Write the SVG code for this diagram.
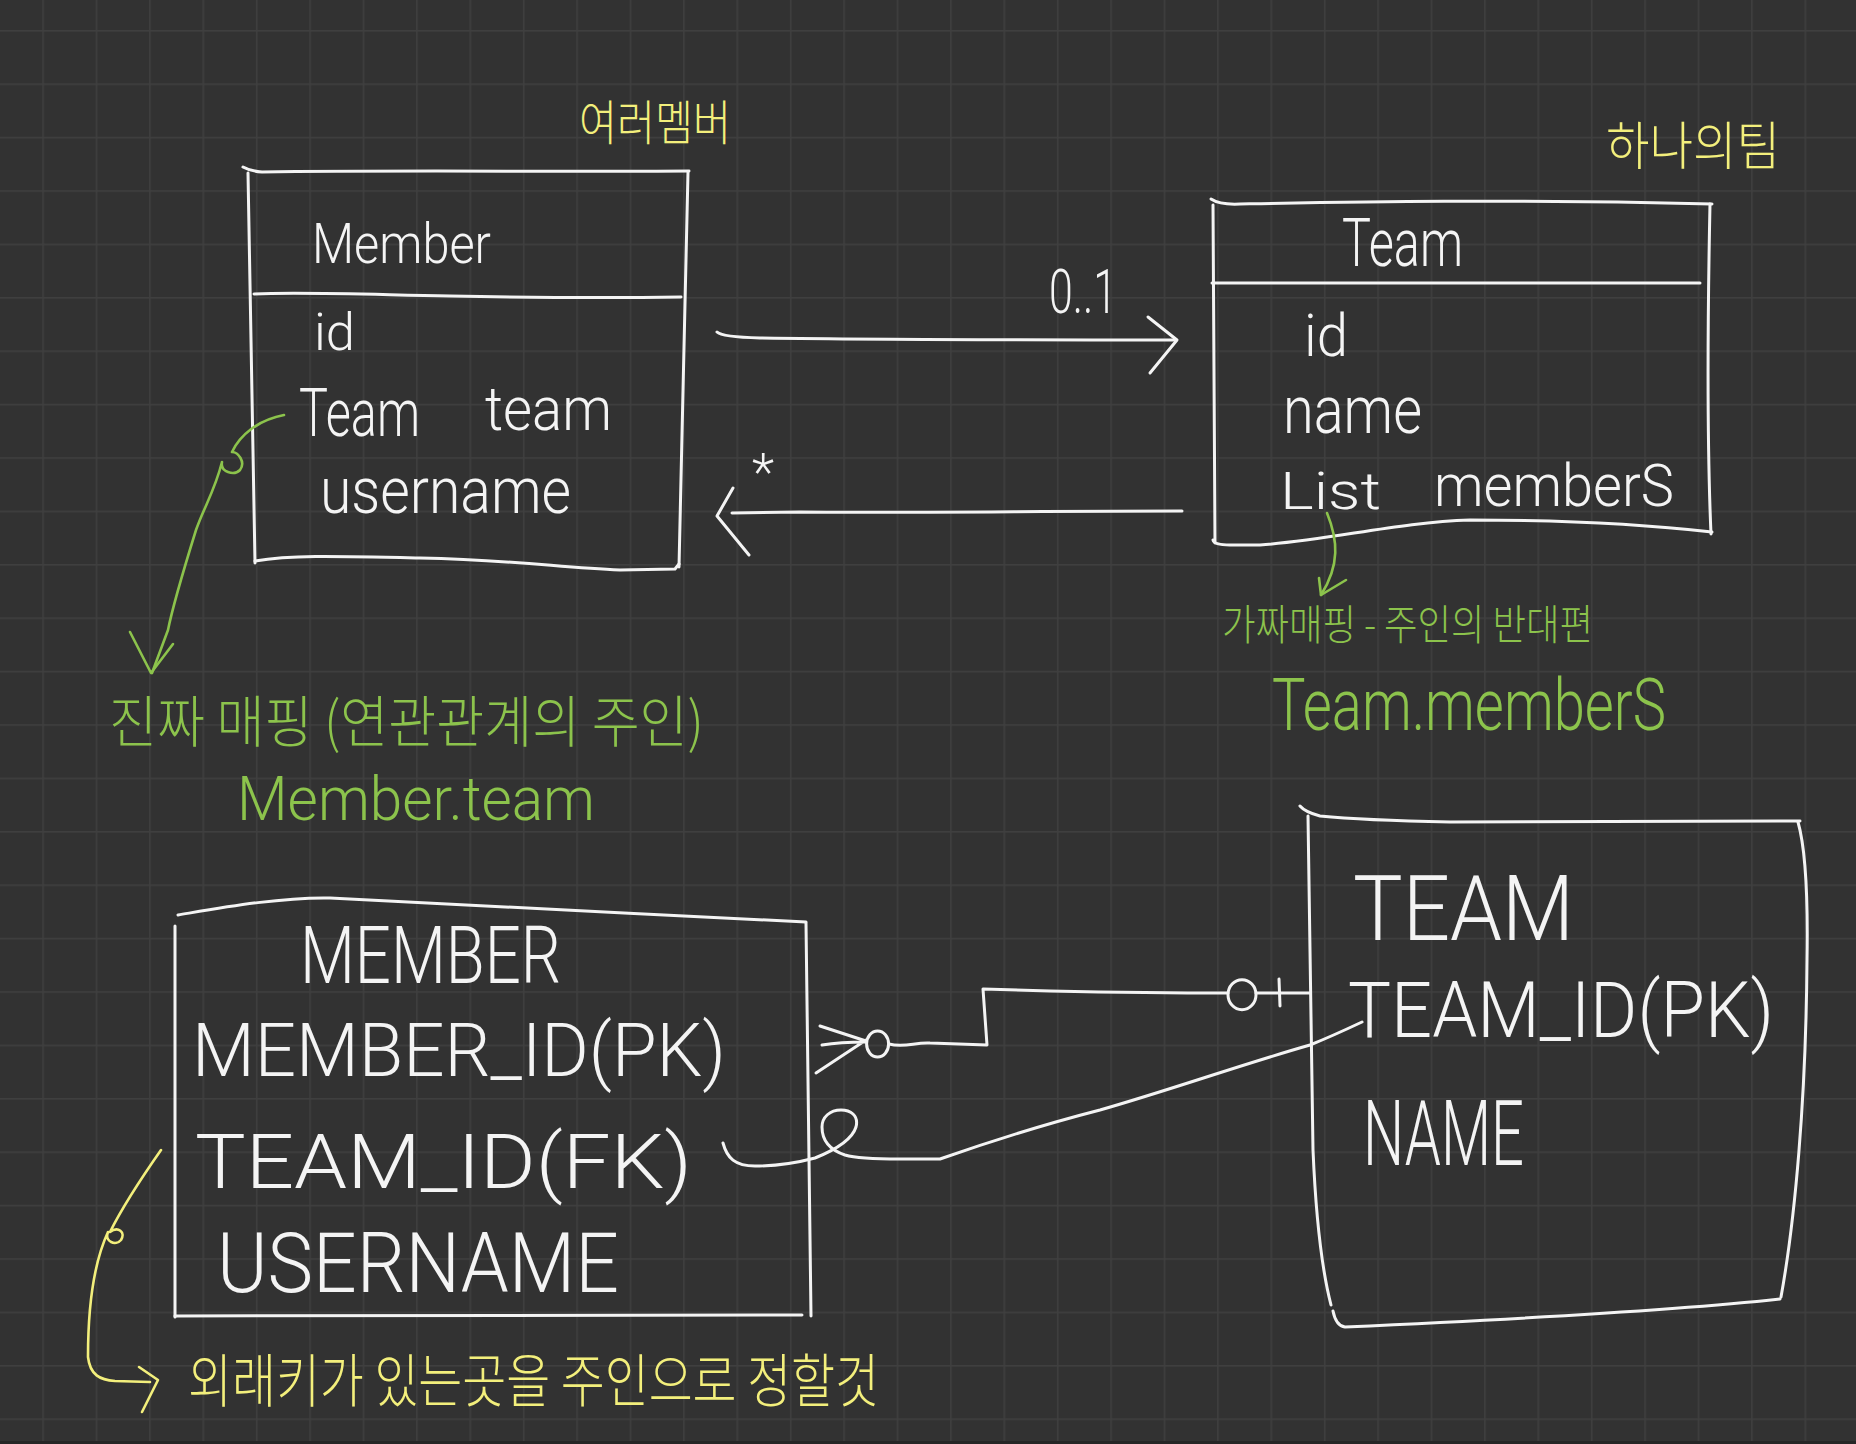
<svg xmlns="http://www.w3.org/2000/svg" width="1856" height="1444" viewBox="0 0 1856 1444">
<defs>
<pattern id="grid" patternUnits="userSpaceOnUse" x="42.3" y="30" width="53.4" height="53.4">
<rect x="0" y="0" width="1.6" height="53.4" fill="#3f3f3f"/>
<rect x="0" y="0" width="53.4" height="1.6" fill="#3f3f3f"/>
</pattern>
<style>
.w{fill:none;stroke:#f4f4f4;stroke-width:3;stroke-linecap:round;stroke-linejoin:round}
.g{fill:none;stroke:#8cc34c;stroke-width:2.6;stroke-linecap:round;stroke-linejoin:round}
.y{fill:none;stroke:#f3ef7c;stroke-width:2.6;stroke-linecap:round;stroke-linejoin:round}
.t{fill:#f4f4f4;font-family:Roboto,"Noto Sans","Noto Sans CJK KR",sans-serif;font-weight:300}
.tg{fill:#8cc34c;font-family:Roboto,"Noto Sans","Noto Sans CJK KR",sans-serif;font-weight:300}
.ty{fill:#f3ef7c;font-family:"Noto Sans CJK KR","Noto Sans",sans-serif;font-weight:300}
.k{font-family:"Noto Sans CJK KR","Noto Sans",sans-serif}
</style>
</defs>
<rect width="1856" height="1444" fill="#323232"/>
<rect width="1856" height="1444" fill="url(#grid)"/>
<rect x="0" y="1441" width="1856" height="3" fill="#262626"/>

<g id="node-member">
<path class="w" d="M243,167 Q250,171 262,172 C400,170 550,172 689,171"/>
<path class="w" d="M248,173 L255,563"/>
<path class="w" d="M688,172 L679,567"/>
<path class="w" d="M255,561 C290,555 330,556 420,558 C520,560 560,568 620,570 L675,569 L679,564"/>
<path class="w" d="M254,294 C300,292 350,294 450,296 C550,298 620,298 681,297"/>
<text class="t" x="312" y="263" font-size="56" textLength="179" lengthAdjust="spacingAndGlyphs">Member</text>
<text class="t" x="314" y="350" font-size="52" textLength="41" lengthAdjust="spacingAndGlyphs">id</text>
<text class="t" x="299" y="436" font-size="66" textLength="121" lengthAdjust="spacingAndGlyphs">Team</text>
<text class="t" x="485" y="430" font-size="62" textLength="127" lengthAdjust="spacingAndGlyphs">team</text>
<text class="t" x="320" y="513" font-size="64" textLength="251" lengthAdjust="spacingAndGlyphs">username</text>
<text class="ty" x="579" y="140" font-size="48" textLength="152" lengthAdjust="spacingAndGlyphs">여러멤버</text>
</g>

<g id="node-team">
<path class="w" d="M1211,199 Q1220,205 1240,204 C1350,202 1500,199 1712,204"/>
<path class="w" d="M1213,205 L1215,543"/>
<path class="w" d="M1710,204 C1708,300 1706,420 1711,534"/>
<path class="w" d="M1213,540 Q1214,545 1230,545 L1260,545 C1330,540 1400,522 1470,520 C1560,520 1650,525 1712,532"/>
<path class="w" d="M1212,283 L1700,283"/>
<text class="t" x="1342" y="266" font-size="66" textLength="121" lengthAdjust="spacingAndGlyphs">Team</text>
<text class="t" x="1304" y="356" font-size="60" textLength="44" lengthAdjust="spacingAndGlyphs">id</text>
<text class="t" x="1283" y="433" font-size="66" textLength="139" lengthAdjust="spacingAndGlyphs">name</text>
<text class="t" x="1280" y="509" font-size="52" textLength="101" lengthAdjust="spacingAndGlyphs">List</text>
<text class="t" x="1434" y="506" font-size="60" textLength="240" lengthAdjust="spacingAndGlyphs">memberS</text>
<text class="ty" x="1606" y="165" font-size="52" textLength="174" lengthAdjust="spacingAndGlyphs">하나의팀</text>
</g>

<g id="node-member-table">
<path class="w" d="M178,915 C220,908 280,897 330,898 C450,905 650,914 806,922"/>
<path class="w" d="M175,926 L175,1317"/>
<path class="w" d="M175,1316 L802,1315"/>
<path class="w" d="M806,923 L811,1316"/>
<text class="t" x="300" y="983" font-size="80" textLength="261" lengthAdjust="spacingAndGlyphs">MEMBER</text>
<text class="t" x="192" y="1076" font-size="74" textLength="534" lengthAdjust="spacingAndGlyphs">MEMBER_ID(PK)</text>
<text class="t" x="195" y="1188" font-size="76" textLength="497" lengthAdjust="spacingAndGlyphs">TEAM_ID(FK)</text>
<text class="t" x="217" y="1292" font-size="84" textLength="402" lengthAdjust="spacingAndGlyphs">USERNAME</text>
</g>

<g id="node-team-table">
<path class="w" d="M1300,806 Q1305,812 1320,816 C1360,820 1400,821 1450,822 L1800,821"/>
<path class="w" d="M1308,816 L1313,1150 C1316,1220 1322,1270 1331,1305"/>
<path class="w" d="M1333,1311 Q1336,1326 1345,1327 C1500,1320 1680,1310 1780,1299"/>
<path class="w" d="M1798,822 C1806,850 1808,900 1807,960 C1806,1100 1795,1220 1781,1297"/>
<text class="t" x="1353" y="940" font-size="90" textLength="221" lengthAdjust="spacingAndGlyphs">TEAM</text>
<text class="t" x="1348" y="1037" font-size="78" textLength="426" lengthAdjust="spacingAndGlyphs">TEAM_ID(PK)</text>
<text class="t" x="1363" y="1165" font-size="90" textLength="161" lengthAdjust="spacingAndGlyphs">NAME</text>
</g>

<g id="connectors">
<path class="w" d="M717,332 Q722,337 760,338 C900,340 1050,340 1176,340"/>
<path class="w" d="M1148,317 L1177,340 L1150,373"/>
<text class="t" x="1049" y="313" font-size="62" textLength="68" lengthAdjust="spacingAndGlyphs">0..1</text>
<path class="w" d="M1182,511 C1050,511 900,513 800,512 L732,513"/>
<path class="w" d="M733,488 L717,516 L749,555"/>
<text class="t" x="752" y="490" font-size="52">*</text>

<path class="w" d="M820,1026 L866,1041 M822,1045 Q840,1042 866,1042 M816,1073 L866,1040"/>
<ellipse class="w" cx="877.6" cy="1044" rx="11" ry="13"/>
<path class="w" d="M889,1044 C905,1048 915,1042 930,1043 L987,1045 L983,989 L1050,991 C1150,993 1200,993 1228,993"/>
<ellipse class="w" cx="1242" cy="994.7" rx="14" ry="15"/>
<path class="w" d="M1256,993 L1310,993 M1279,979 L1280,1006"/>
<path class="w" d="M723,1143 C727,1158 735,1166 755,1166 C780,1166 800,1162 815,1158 C835,1150 852,1140 856,1127 C859,1115 850,1110 841,1110 C830,1110 822,1117 822,1127 C822,1140 830,1150 845,1155 C855,1158 870,1159 900,1159 L940,1159 C980,1145 1030,1128 1100,1110 C1170,1090 1240,1065 1310,1045 C1330,1037 1345,1030 1362,1022"/>

<path class="g" d="M284,415 C258,420 240,435 232,452 C238,452 246,462 240,470 C234,476 220,472 222,462 C215,490 205,505 196,530 C182,575 172,610 168,630 L152,673"/>
<path class="g" d="M130,632 L151,673 L173,644"/>
<path class="g" d="M1327,513 C1338,540 1340,565 1321,595"/>
<path class="g" d="M1319,578 L1321,595 L1346,580"/>
<path class="y" d="M161,1150 C140,1180 120,1212 110,1232 C118,1226 126,1232 121,1240 C116,1246 104,1242 108,1232 C95,1260 88,1300 88,1357 C90,1375 100,1380 115,1381 L150,1382"/>
<path class="y" d="M139,1367 L158,1380 L142,1412"/>
</g>

<g id="notes">
<text class="tg k" x="1222" y="640" font-size="42" textLength="371" lengthAdjust="spacingAndGlyphs">가짜매핑 - 주인의 반대편</text>
<text class="tg" x="1272" y="730" font-size="72" textLength="394" lengthAdjust="spacingAndGlyphs">Team.memberS</text>
<text class="tg k" x="109" y="742" font-size="56" textLength="595" lengthAdjust="spacingAndGlyphs">진짜 매핑 (연관관계의 주인)</text>
<text class="tg" x="237" y="820" font-size="62" textLength="358" lengthAdjust="spacingAndGlyphs">Member.team</text>
<text class="ty" x="188" y="1402" font-size="58" textLength="691" lengthAdjust="spacingAndGlyphs">외래키가 있는곳을 주인으로 정할것</text>
</g>
</svg>
